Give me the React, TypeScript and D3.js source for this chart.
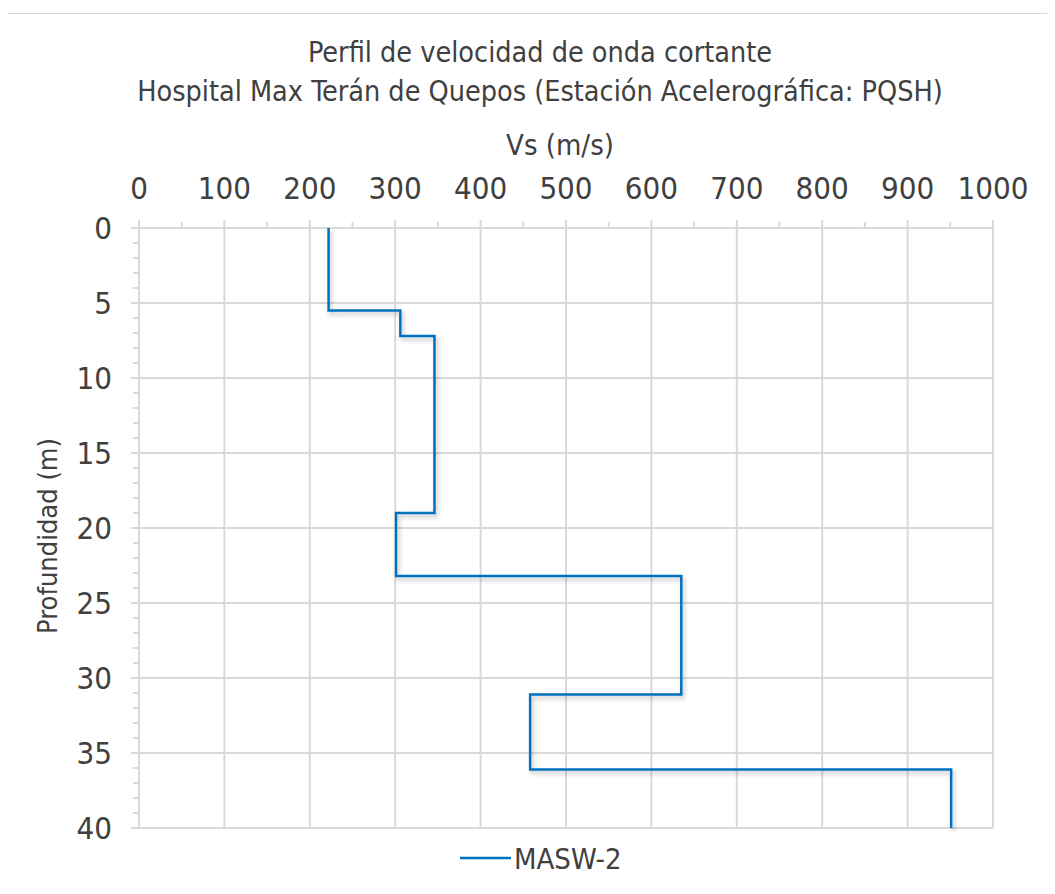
import React, { useEffect, useRef } from "react";
import * as d3 from "d3";

// perfil escalonado: velocidad y profundidades de cada capa
const velocidades = [222, 306, 346, 301, 635, 458, 951];
const profTope = [0, 5.5, 7.2, 19.0, 23.2, 31.1, 36.1];
const profBase = [5.5, 7.2, 19.0, 23.2, 31.1, 36.1, 40];
const xTicks = [0, 100, 200, 300, 400, 500, 600, 700, 800, 900, 1000];
const yTicks = [0, 5, 10, 15, 20, 25, 30, 35, 40];
const titulo1 = "Perfil de velocidad de onda cortante";
const titulo2 = "Hospital Max Terán de Quepos (Estación Acelerográfica: PQSH)";
const serie = "MASW-2";

const FONT = "'Liberation Sans Narrow', 'DejaVu Sans Condensed', 'Roboto Condensed', sans-serif";

export default function App() {
  const ref = useRef<SVGSVGElement>(null);

  useEffect(() => {
    const svg = d3.select(ref.current);
    svg.selectAll("*").remove();
    const width = 1055, height = 894;
    const margin = { top: 228, left: 139, right: 62, bottom: 66 };

    const x = d3.scaleLinear().domain([0, 1000]).range([margin.left, width - margin.right]);
    const y = d3.scaleLinear().domain([0, 40]).range([margin.top, height - margin.bottom]);

    const defs = svg.append("defs");
    const f = defs.append("filter").attr("id", "sombra").attr("x", "-5%").attr("y", "-5%").attr("width", "110%").attr("height", "110%");
    f.append("feDropShadow").attr("dx", 2).attr("dy", 3).attr("stdDeviation", 2).attr("flood-color", "#000").attr("flood-opacity", 0.25);

    svg.append("rect").attr("x", 4.5).attr("y", 13.5).attr("width", width).attr("height", height)
      .attr("fill", "#fff").attr("stroke", "#d9d9d9");

    const g = svg.append("g");

    // grid
    g.selectAll(".vg").data(xTicks).enter().append("line")
      .attr("x1", d => x(d)).attr("x2", d => x(d))
      .attr("y1", y(0) - 8).attr("y2", y(40))
      .attr("stroke", "#d9d9d9").attr("stroke-width", 2);
    g.selectAll(".hg").data(yTicks).enter().append("line")
      .attr("x1", x(0) - 8).attr("x2", x(1000))
      .attr("y1", d => y(d)).attr("y2", d => y(d))
      .attr("stroke", "#d9d9d9").attr("stroke-width", 2);

    // minor ticks
    g.selectAll(".mx").data(d3.range(50, 1000, 100)).enter().append("line")
      .attr("x1", d => x(d)).attr("x2", d => x(d))
      .attr("y1", y(0) - 6).attr("y2", y(0))
      .attr("stroke", "#d9d9d9").attr("stroke-width", 2);
    g.selectAll(".my").data(d3.range(0, 41).filter(d => d % 5 !== 0)).enter().append("line")
      .attr("x1", x(0) - 6).attr("x2", x(0))
      .attr("y1", d => y(d)).attr("y2", d => y(d))
      .attr("stroke", "#d9d9d9").attr("stroke-width", 2);

    // tick labels
    g.selectAll(".xl").data(xTicks).enter().append("text")
      .attr("x", d => x(d)).attr("y", 199)
      .attr("text-anchor", "middle").attr("font-family", FONT).attr("font-size", 31).attr("fill", "#404040")
      .text(d => d);
    g.selectAll(".yl").data(yTicks).enter().append("text")
      .attr("x", 112).attr("y", d => y(d) + 11)
      .attr("text-anchor", "end").attr("font-family", FONT).attr("font-size", 31).attr("fill", "#404040")
      .text(d => d);

    // step line
    const pts: [number, number][] = [];
    velocidades.forEach((v, i) => {
      pts.push([v, profTope[i]]);
      pts.push([v, profBase[i]]);
    });
    const line = d3.line<[number, number]>().x(d => x(d[0])).y(d => y(d[1]));
    g.append("path").datum(pts).attr("d", line)
      .attr("fill", "none").attr("stroke", "#0070c0").attr("stroke-width", 2.5)
      .attr("filter", "url(#sombra)");

    // titles
    const cx = (x(0) + x(1000)) / 2;
    svg.append("text").attr("x", cx - 26).attr("y", 62).attr("text-anchor", "middle")
      .attr("font-family", FONT).attr("font-size", 28.5).attr("fill", "#404040").text(titulo1);
    svg.append("text").attr("x", cx - 26).attr("y", 101).attr("text-anchor", "middle")
      .attr("font-family", FONT).attr("font-size", 28.5).attr("fill", "#404040").text(titulo2);
    svg.append("text").attr("x", cx - 6).attr("y", 155).attr("text-anchor", "middle")
      .attr("font-family", FONT).attr("font-size", 29).attr("fill", "#404040").text("Vs (m/s)");
    svg.append("text").attr("transform", `translate(57,${(y(0) + y(40)) / 2 + 8}) rotate(-90)`)
      .attr("text-anchor", "middle").attr("font-family", FONT).attr("font-size", 27).attr("fill", "#404040")
      .text("Profundidad (m)");

    // legend
    svg.append("line").attr("x1", 460).attr("x2", 511).attr("y1", 858).attr("y2", 858)
      .attr("stroke", "#0070c0").attr("stroke-width", 2.5);
    svg.append("text").attr("x", 514).attr("y", 869).attr("font-family", FONT).attr("font-size", 29)
      .attr("fill", "#404040").text(serie);
  }, []);

  return <svg ref={ref} width={1055} height={894} style={{ display: "block", margin: -8 }} />;
}
